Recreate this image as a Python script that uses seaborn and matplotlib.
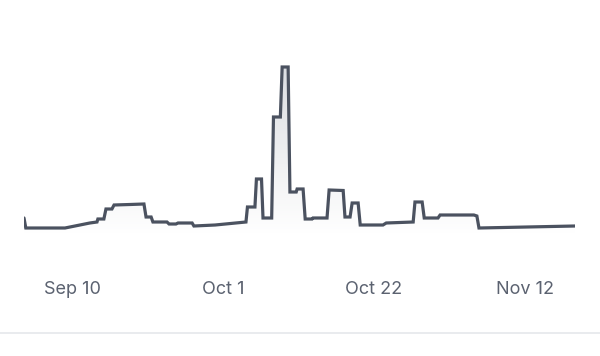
import numpy as np
import pandas as pd
import matplotlib
matplotlib.use("Agg")
import matplotlib.pyplot as plt
import matplotlib.dates as mdates
from matplotlib.lines import Line2D
import seaborn as sns

# ---- data ----
times = [
    "2024-09-03 06:00", "2024-09-03 12:00", "2024-09-08 23:00", "2024-09-11 01:00",
    "2024-09-12 10:00", "2024-09-13 10:00", "2024-09-13 13:00", "2024-09-14 09:00",
    "2024-09-14 16:00", "2024-09-15 12:00", "2024-09-15 19:00", "2024-09-18 00:00",
    "2024-09-19 23:00", "2024-09-20 06:00", "2024-09-20 23:00", "2024-09-21 05:00",
    "2024-09-23 04:00", "2024-09-23 11:00", "2024-09-24 10:00", "2024-09-24 17:00",
    "2024-09-26 16:00", "2024-09-26 22:00", "2024-09-29 21:00", "2024-10-04 04:00",
    "2024-10-04 09:00", "2024-10-05 10:00", "2024-10-05 15:00", "2024-10-06 08:00",
    "2024-10-06 13:00", "2024-10-07 18:00", "2024-10-08 00:00", "2024-10-08 23:00",
    "2024-10-09 05:00", "2024-10-10 01:00", "2024-10-10 07:00", "2024-10-11 04:00",
    "2024-10-11 07:00", "2024-10-12 03:00", "2024-10-12 10:00", "2024-10-13 09:00",
    "2024-10-13 12:00", "2024-10-15 11:00", "2024-10-15 18:00", "2024-10-17 17:00",
    "2024-10-17 23:00", "2024-10-18 16:00", "2024-10-18 23:00", "2024-10-19 19:00",
    "2024-10-20 02:00", "2024-10-23 06:00", "2024-10-23 17:00", "2024-10-27 11:00",
    "2024-10-27 17:00", "2024-10-28 17:00", "2024-10-29 00:00", "2024-10-30 22:00",
    "2024-10-31 05:00", "2024-11-04 22:00", "2024-11-05 08:00", "2024-11-05 15:00",
    "2024-11-19 00:00",
]
values = [
    17, 7, 7, 10,
    12, 13, 16, 16,
    26, 26, 30, 30.5,
    31, 18, 18, 13,
    13, 11, 11, 12,
    12, 9, 10, 13,
    28, 28, 56, 56,
    17, 17, 118, 118,
    168, 168, 43, 43,
    46, 46, 16, 16,
    17, 17, 45, 44.5,
    18, 18, 32, 32,
    10, 10, 12, 13,
    33, 33, 17, 17,
    20, 20, 19, 7,
    9,
]
tick_dates = ["2024-09-10", "2024-10-01", "2024-10-22", "2024-11-12"]
tick_labels = ["Sep 10", "Oct 1", "Oct 22", "Nov 12"]

df = pd.DataFrame({"time": pd.to_datetime(times), "value": values})

LINE = "#4b5260"
TEXT = "#5b6270"

sns.set_theme(style="white")
plt.rcParams["font.family"] = ["Inter", "DejaVu Sans"]

fig = plt.figure(figsize=(6.0, 3.56), dpi=100)
ax = fig.add_axes([24 / 600, (356 - 235) / 356, 551 / 600, 175 / 356])

sns.lineplot(data=df, x="time", y="value", ax=ax, color=LINE, linewidth=2.3,
             estimator=None, sort=True, zorder=3)
for l in ax.lines:
    l.set_solid_joinstyle("miter")

xmin, xmax = df["time"].min(), df["time"].max()

# gradient fill under the line
poly = ax.fill_between(df["time"], df["value"], 0, color="none", lw=0)
vmax = df["value"].max()
n = 256
alpha = np.linspace(0.0, 0.36, n)[:, None]
rgb = np.array(matplotlib.colors.to_rgb("#9ca3af"))
img = np.zeros((n, 1, 4))
img[..., :3] = rgb
img[..., 3] = alpha
x0, x1 = mdates.date2num(xmin), mdates.date2num(xmax)
im = ax.imshow(img, extent=[x0, x1, 0, vmax], origin="lower", aspect="auto", zorder=2)
im.set_clip_path(poly.get_paths()[0], transform=ax.transData)
ax.set_xlim(xmin, xmax)
ax.set_ylim(0, 175)

ax.set_xticks(pd.to_datetime(tick_dates))
ax.set_xticklabels(tick_labels)
ax.tick_params(axis="x", length=0, pad=33, labelsize=13, labelcolor=TEXT)
ax.set_yticks([])
ax.set_xlabel("")
ax.set_ylabel("")
for s in ax.spines.values():
    s.set_visible(False)
ax.patch.set_alpha(0)

fig.add_artist(Line2D([0, 1], [(356 - 333) / 356] * 2, color="#e5e7eb", lw=1.2,
                      transform=fig.transFigure))

fig.savefig("out.png", dpi=100, facecolor="white")
